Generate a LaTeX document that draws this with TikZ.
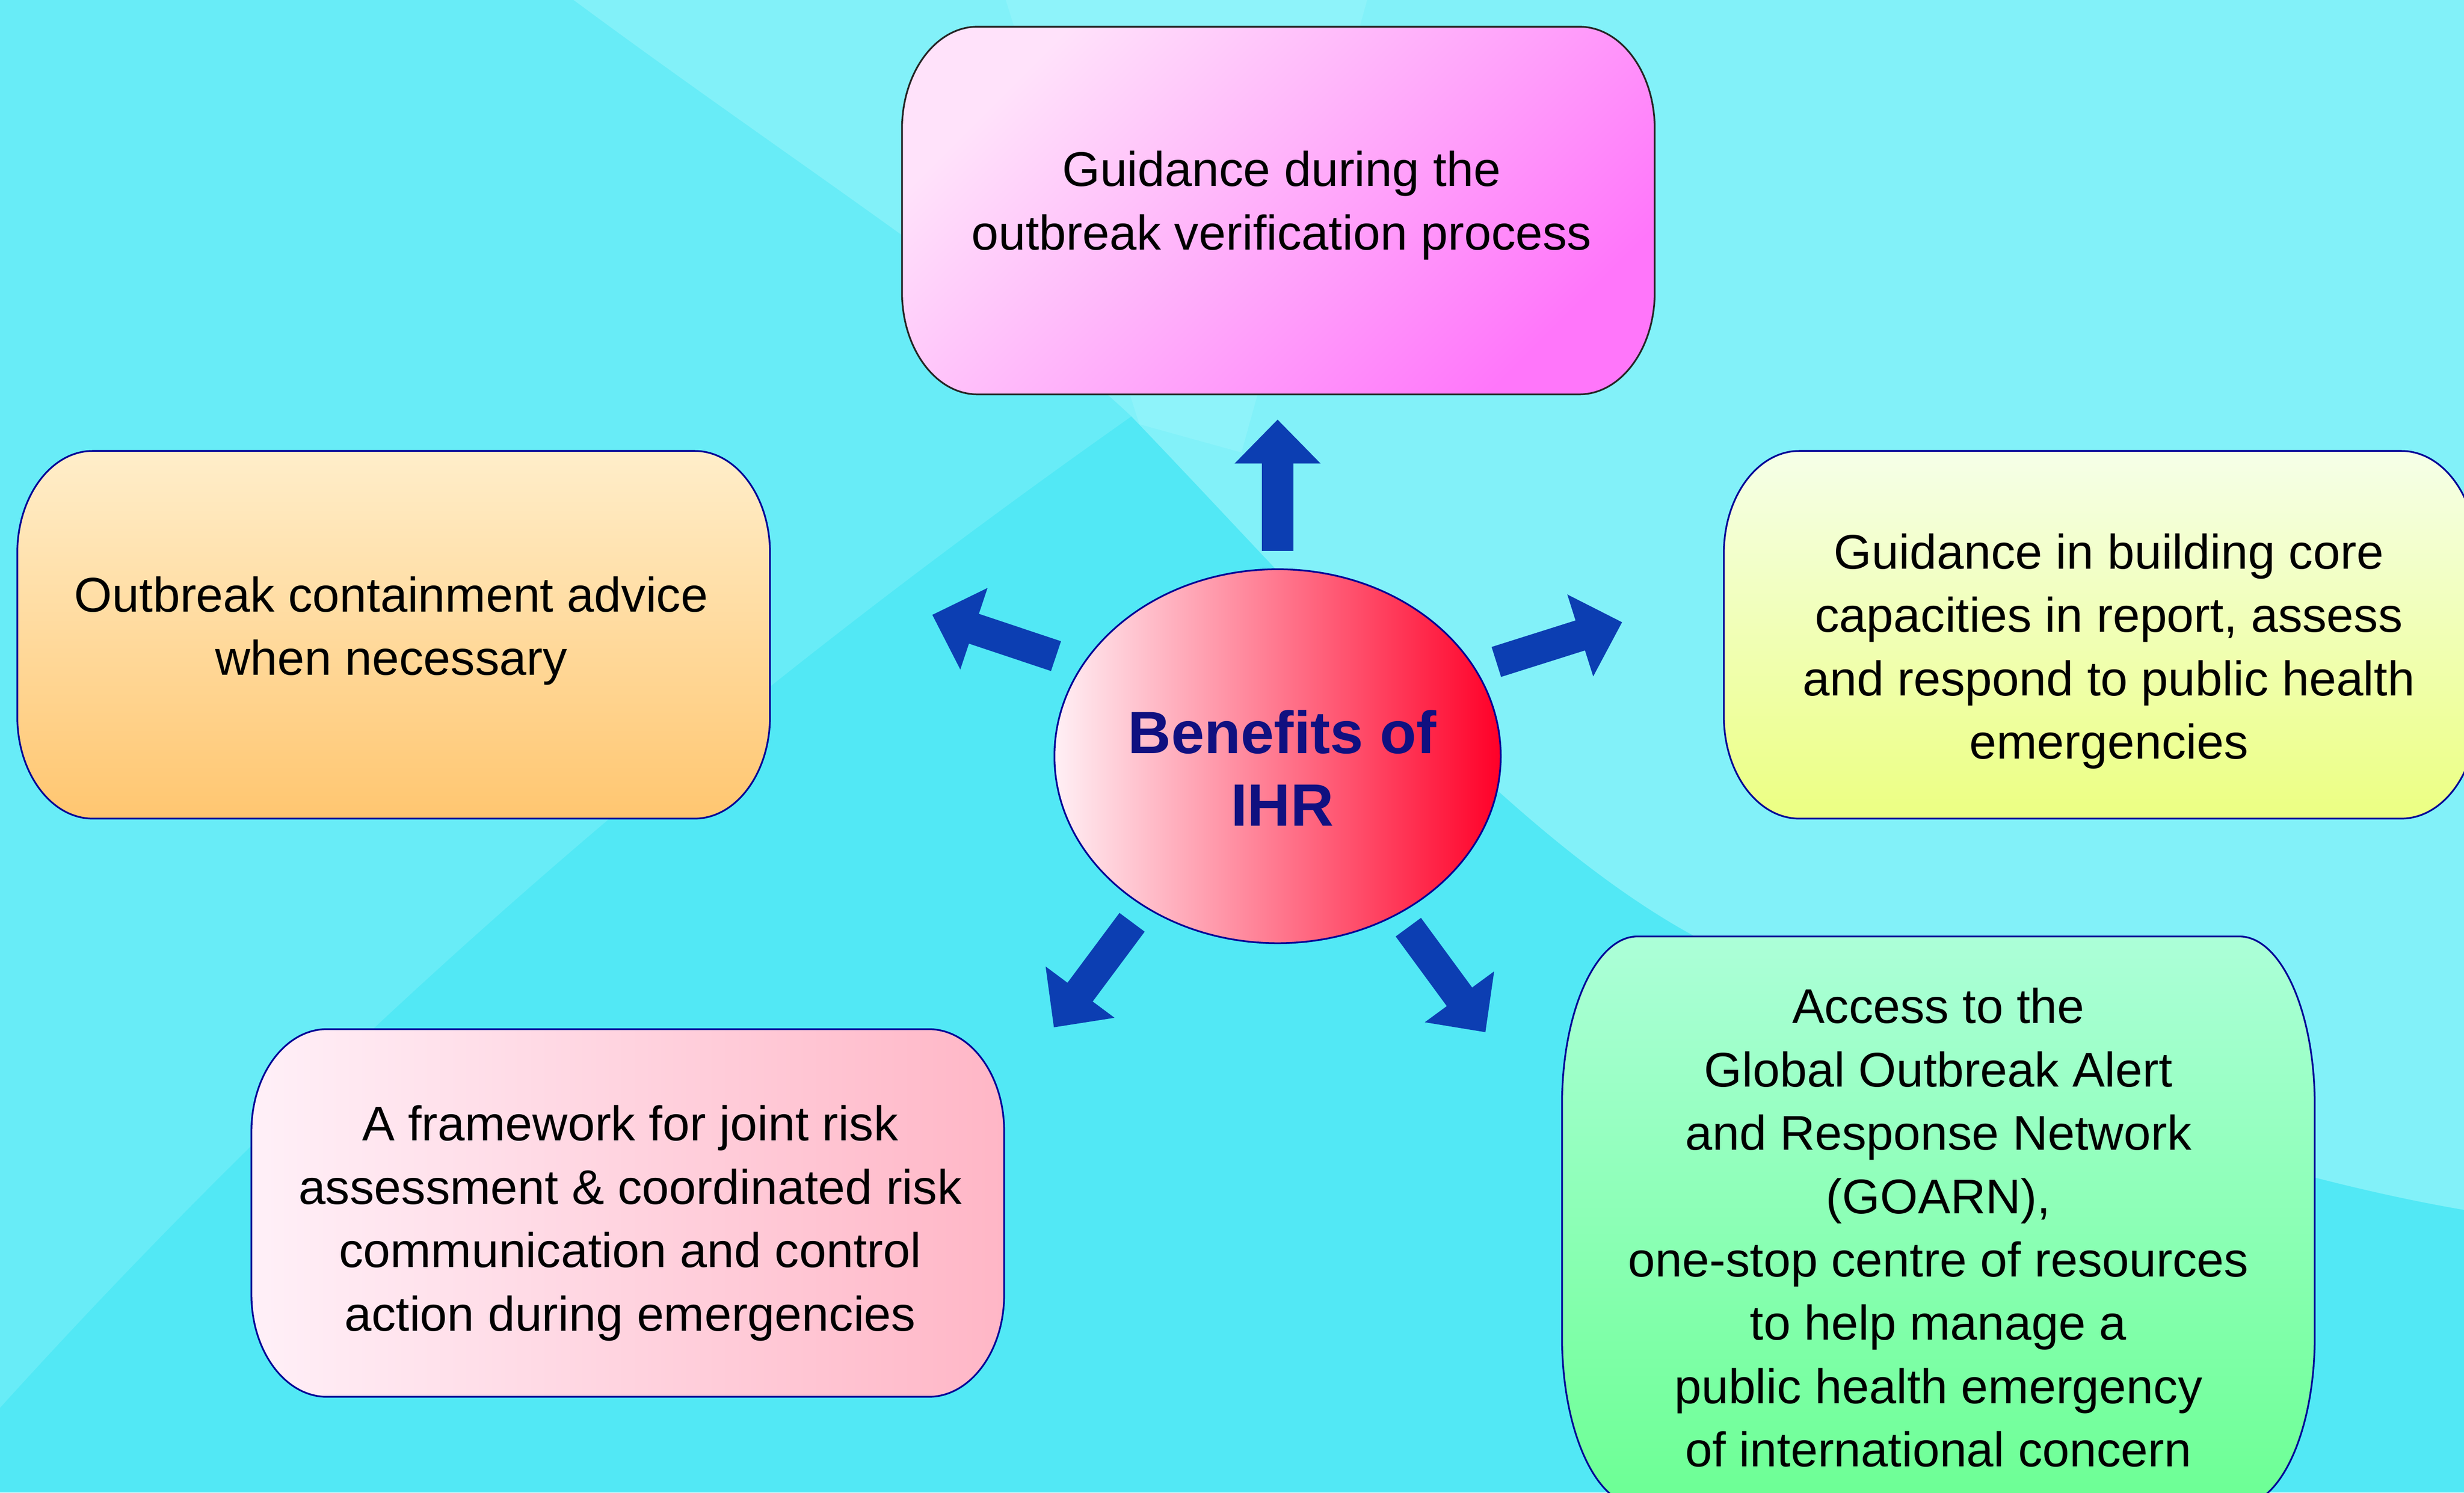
\documentclass[tikz,border=0pt]{standalone}
\usepackage{fontspec}
\setmainfont{Liberation Sans}
\usetikzlibrary{shapes.geometric,arrows.meta}
\definecolor{ihrcyan}{RGB}{82,232,245}
\definecolor{ihrcyanmid}{RGB}{104,236,247}
\definecolor{ihrcyanlight}{RGB}{130,241,249}
\definecolor{ihrcyanpale}{RGB}{142,243,250}
\definecolor{ihrblue}{RGB}{12,62,178}
\definecolor{ihrnavy}{RGB}{16,16,128}
\definecolor{ihredge}{RGB}{0,0,150}
\definecolor{pinklight}{RGB}{255,226,250}
\definecolor{pinkdeep}{RGB}{255,118,250}
\definecolor{orangelight}{RGB}{255,238,202}
\definecolor{orangedeep}{RGB}{255,198,112}
\definecolor{yellowlight}{RGB}{245,255,232}
\definecolor{yellowdeep}{RGB}{236,255,130}
\definecolor{roselight}{RGB}{255,240,248}
\definecolor{rosedeep}{RGB}{255,182,198}
\definecolor{greenlight}{RGB}{172,255,216}
\definecolor{greendeep}{RGB}{108,255,148}
\definecolor{redlight}{RGB}{255,240,245}
\definecolor{reddeep}{RGB}{255,0,40}

% box with elliptic corners: style, cx, cy, half width, half height, rx, ry
\newcommand{\ihrbox}[7]{%
  \path[#1] (#2-#4+#6,#3+#5) -- (#2+#4-#6,#3+#5)
    arc[start angle=90, end angle=0, x radius=#6, y radius=#7]
    -- (#2+#4,#3-#5+#7)
    arc[start angle=0, end angle=-90, x radius=#6, y radius=#7]
    -- (#2-#4+#6,#3-#5)
    arc[start angle=270, end angle=180, x radius=#6, y radius=#7]
    -- (#2-#4,#3+#5-#7)
    arc[start angle=180, end angle=90, x radius=#6, y radius=#7]
    -- cycle;}

\begin{document}
\begin{tikzpicture}[x=1pt, y=1pt,
  boxtext/.style={align=center, font={\fontsize{31}{40.3}\selectfont}},
  boxedge/.style={draw=ihredge, line width=1.1pt},
  bigarrow/.style={ihrblue, line width=20pt, -{Triangle[length=28pt,width=53pt]}}]
\useasboundingbox (0,0) rectangle (1568,950);
\clip (0,0) rectangle (1568,950);

% Background
\fill[ihrcyan] (0,0) rectangle (1568,950);
\fill[ihrcyanmid] (0,54) .. controls (250,330) and (500,530) .. (720,685)
  .. controls (840,560) and (960,420) .. (1075,356)
  .. controls (1250,260) and (1450,200) .. (1568,180) -- (1568,950) -- (0,950) -- cycle;
\fill[ihrcyanlight] (365,950) .. controls (500,850) and (640,760) .. (720,685)
  .. controls (840,560) and (960,420) .. (1075,356)
  .. controls (1250,260) and (1450,200) .. (1568,180) -- (1568,950) -- cycle;
\fill[ihrcyanpale] (640,950) -- (870,950) -- (790,662) -- (725,680) -- cycle;

% Benefit boxes
\ihrbox{boxedge, draw=black!85, top color=pinklight, bottom color=pinkdeep, shading angle=45}{813.5}{816}{239.5}{117}{48}{65}
\ihrbox{boxedge, top color=orangelight, bottom color=orangedeep}{250.5}{546}{239.5}{117}{48}{65}
\ihrbox{boxedge, top color=yellowlight, bottom color=yellowdeep}{1336.5}{546}{239.5}{117}{48}{65}
\ihrbox{boxedge, left color=roselight, right color=rosedeep}{399.5}{178}{239.5}{117}{48}{65}
\ihrbox{boxedge, top color=greenlight, bottom color=greendeep}{1233.5}{173}{239.5}{181}{48}{107}

\node[boxtext] (guide) at (815.5, 819.3) {Guidance during the\\outbreak verification process};
\node[boxtext] (contain) at (249, 548.5) {Outbreak containment advice\\when necessary};
\node[boxtext] (build) at (1342, 535.5) {Guidance in building core\\capacities in report, assess\\and respond to public health\\emergencies};
\node[boxtext] (frame) at (401, 171.5) {A framework for joint risk\\assessment \& coordinated risk\\communication and control\\action during emergencies};
\node[boxtext] (goarn) at (1233.5, 168.7) {Access to the\\Global Outbreak Alert\\and Response Network\\(GOARN),\\one-stop centre of resources\\to help manage a\\public health emergency\\of international concern};

% Centre
\node[ellipse, boxedge, left color=redlight, right color=reddeep, minimum width=284pt, minimum height=238pt, inner sep=0pt] (ihr) at (813, 468.7) {};
\node[align=center, text=ihrnavy, font={\fontsize{38}{46}\selectfont\bfseries}] (ihrlabel) at ([xshift=3pt, yshift=-7.5pt]ihr.center) {Benefits of\\IHR};

% Arrows
\coordinate (upfrom) at (813, 599.3);
\coordinate (upto) at (813, 683);
\coordinate (ulfrom) at (672, 532.4);
\coordinate (ulto) at (593.2, 558.7);
\coordinate (urfrom) at (952.2, 528.7);
\coordinate (urto) at (1032.3, 554);
\coordinate (dlfrom) at (720.4, 363);
\coordinate (dlto) at (670.6, 296.1);
\coordinate (drfrom) at (896.2, 359.9);
\coordinate (drto) at (945.3, 293);
\draw[bigarrow] (upfrom) -- (upto);
\draw[bigarrow] (ulfrom) -- (ulto);
\draw[bigarrow] (urfrom) -- (urto);
\draw[bigarrow] (dlfrom) -- (dlto);
\draw[bigarrow] (drfrom) -- (drto);
\end{tikzpicture}
\end{document}
